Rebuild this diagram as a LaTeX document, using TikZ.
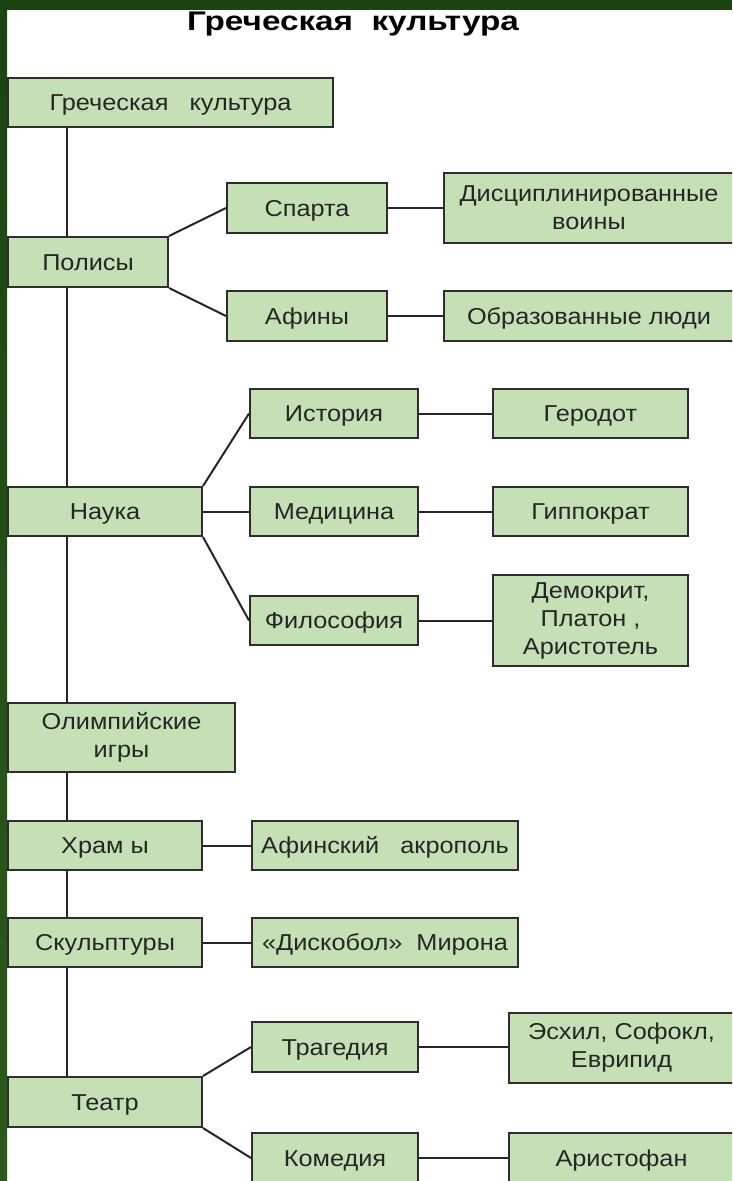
\documentclass[tikz,border=0pt]{standalone}
\usepackage{fontspec}
\setmainfont{Liberation Sans}[FakeStretch=1.1]
\definecolor{boxfill}{RGB}{197,224,180}
\definecolor{boxline}{RGB}{45,45,45}
\definecolor{framedark}{RGB}{27,68,16}
\definecolor{framelight}{RGB}{45,90,28}
\tikzset{
  box/.style={draw=boxline, line width=2pt, fill=boxfill, inner sep=0pt,
    align=center, font=\fontsize{23}{28}\selectfont, text=black!85},
  one/.style={text height=16.5pt, text depth=0pt},
  conn/.style={draw=black!85, line width=2pt},
}
\begin{document}
\begin{tikzpicture}[x=1pt,y=-1pt]
\useasboundingbox (0,0) rectangle (732,1181);
\clip (0,0) rectangle (732,1181);
\fill[white] (0,0) rectangle (732,1181);
\node[font=\bfseries\fontsize{27}{32}\selectfont, text=black, anchor=base, inner sep=0pt] (title) at (353,30) {\scalebox{1.12}[1]{Греческая\ \ культура}};
\fill[framedark] (0,0) rectangle (732,10);
\shade[top color=framedark, bottom color=framelight] (0,0) rectangle (7,1181);
\coordinate (trunk) at (67,0);
% boxes
\node[box, one, minimum width=325, minimum height=49] (greek) at (170.5,102) {Греческая\ \ \ культура};
\node[box, one, minimum width=160, minimum height=50] (polis) at (88,262) {Полисы};
\node[box, one, minimum width=160, minimum height=50] (sparta) at (307,208) {Спарта};
\node[box, one, minimum width=160, minimum height=50] (afiny) at (307,316) {Афины};
\node[box, minimum width=290, minimum height=70] (voiny) at (589,208) {Дисциплинированные\\воины};
\node[box, one, minimum width=290, minimum height=50] (ludi) at (589,316) {Образованные люди};
\node[box, one, minimum width=194, minimum height=49] (nauka) at (105,511.5) {Наука};
\node[box, one, minimum width=168, minimum height=49] (istoria) at (334,413.5) {История};
\node[box, one, minimum width=168, minimum height=49] (medicina) at (334,511.5) {Медицина};
\node[box, one, minimum width=168, minimum height=49] (filosofia) at (334,620.5) {Философия};
\node[box, one, minimum width=195, minimum height=49] (herodot) at (590.5,413.5) {Геродот};
\node[box, one, minimum width=195, minimum height=49] (hippokrat) at (590.5,511.5) {Гиппократ};
\node[box, minimum width=195, minimum height=91] (demokrit) at (590.5,620.5) {Демокрит,\\Платон ,\\Аристотель};
\node[box, minimum width=227, minimum height=69] (olymp) at (121.5,737.5) {Олимпийские\\игры};
\node[box, one, minimum width=194, minimum height=49] (hramy) at (105,845.5) {Храм ы};
\node[box, one, minimum width=266, minimum height=49] (akropol) at (385,845.5) {Афинский\ \ \ акрополь};
\node[box, one, minimum width=194, minimum height=49] (skulpt) at (105,942.5) {Скульптуры};
\node[box, one, minimum width=266, minimum height=49] (diskobol) at (385,942.5) {«Дискобол»\ \ Мирона};
\node[box, one, minimum width=194, minimum height=50] (teatr) at (105,1102) {Театр};
\node[box, one, minimum width=166, minimum height=50] (tragedia) at (335,1047) {Трагедия};
\node[box, one, minimum width=166, minimum height=50] (komedia) at (335,1158) {Комедия};
\node[box, minimum width=225, minimum height=70] (eshil) at (621.5,1048) {Эсхил, Софокл,\\Еврипид};
\node[box, one, minimum width=225, minimum height=50] (aristofan) at (621.5,1158) {Аристофан};
% trunk
\draw[conn] (greek.south -| trunk) -- (polis.north -| trunk);
\draw[conn] (polis.south -| trunk) -- (nauka.north -| trunk);
\draw[conn] (nauka.south -| trunk) -- (olymp.north -| trunk);
\draw[conn] (olymp.south -| trunk) -- (hramy.north -| trunk);
\draw[conn] (hramy.south -| trunk) -- (skulpt.north -| trunk);
\draw[conn] (skulpt.south -| trunk) -- (teatr.north -| trunk);
% branches
\draw[conn] (polis.north east) -- (sparta.west);
\draw[conn] (polis.south east) -- (afiny.west);
\draw[conn] (sparta.east) -- (voiny.west |- sparta.east);
\draw[conn] (afiny.east) -- (ludi.west);
\draw[conn] (nauka.north east) -- (istoria.west);
\draw[conn] (nauka.east) -- (medicina.west);
\draw[conn] (nauka.south east) -- (filosofia.west);
\draw[conn] (istoria.east) -- (herodot.west);
\draw[conn] (medicina.east) -- (hippokrat.west);
\draw[conn] (filosofia.east) -- (demokrit.west |- filosofia.east);
\draw[conn] (hramy.east) -- (akropol.west);
\draw[conn] (skulpt.east) -- (diskobol.west);
\draw[conn] (teatr.north east) -- (tragedia.west);
\draw[conn] (teatr.south east) -- (komedia.west);
\draw[conn] (tragedia.east) -- (eshil.west |- tragedia.east);
\draw[conn] (komedia.east) -- (aristofan.west);
\end{tikzpicture}
\end{document}
